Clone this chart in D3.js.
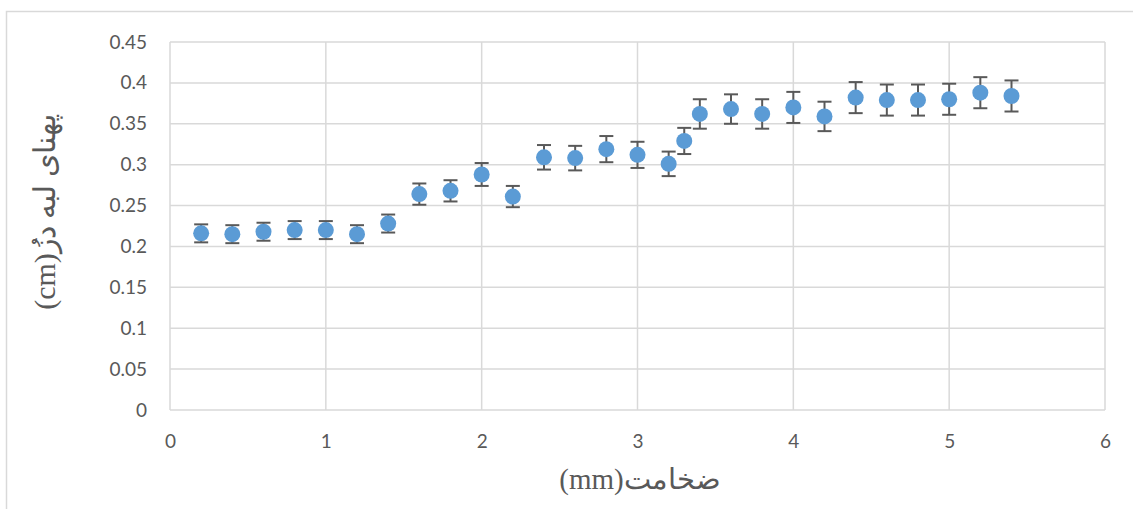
<!DOCTYPE html>
<html>
<head>
<meta charset="utf-8">
<script src="https://cdn.jsdelivr.net/npm/d3@7"></script>
<style>
  body { margin: 0; background: #fff; }
  .tick text { font-family: Lato, "Open Sans", sans-serif; fill: #595959; }
  .title { font-family: "Liberation Serif", "DejaVu Serif", serif; fill: #595959; }
</style>
</head>
<body>
<svg id="chart" width="1133" height="509"></svg>
<script>
// thickness (mm) and edge width (cm)
var thickness = [0.2, 0.4, 0.6, 0.8, 1.0, 1.2, 1.4, 1.6, 1.8, 2.0, 2.2, 2.4, 2.6, 2.8, 3.0, 3.2, 3.3, 3.4, 3.6, 3.8, 4.0, 4.2, 4.4, 4.6, 4.8, 5.0, 5.2, 5.4];
var edgeWidth = [0.216, 0.215, 0.218, 0.220, 0.220, 0.215, 0.228, 0.264, 0.268, 0.288, 0.261, 0.309, 0.308, 0.319, 0.312, 0.301, 0.329, 0.362, 0.368, 0.362, 0.370, 0.359, 0.382, 0.379, 0.379, 0.380, 0.388, 0.384];
var errorBar = [0.011, 0.011, 0.011, 0.011, 0.011, 0.011, 0.011, 0.013, 0.013, 0.014, 0.013, 0.015, 0.015, 0.016, 0.016, 0.015, 0.016, 0.018, 0.018, 0.018, 0.019, 0.018, 0.019, 0.019, 0.019, 0.019, 0.019, 0.019];

var xTicks = [0, 1, 2, 3, 4, 5, 6];
var yTicks = [0, 0.05, 0.1, 0.15, 0.2, 0.25, 0.3, 0.35, 0.4, 0.45];

var xTitle = 'ضخامت(mm)';
var yTitle = 'پهنای لبه دزُ(cm)';

var svg = d3.select('#chart');
var margin = { top: 42, right: 28, bottom: 99, left: 170 };
var width = 1133 - margin.left - margin.right;
var height = 509 - margin.top - margin.bottom;

// outer chart border
svg.append('rect')
    .attr('x', 6.5).attr('y', 11.5)
    .attr('width', 1140).attr('height', 520)
    .attr('fill', 'none')
    .attr('stroke', '#d9d9d9')
    .attr('stroke-width', 1.5);

var g = svg.append('g').attr('transform', `translate(${margin.left},${margin.top})`);

var x = d3.scaleLinear().domain([0, 6]).range([0, width]);
var y = d3.scaleLinear().domain([0, 0.45]).range([height, 0]);

// grid lines
g.selectAll('.vgrid')
    .data(xTicks)
    .join('line')
    .attr('x1', d => x(d)).attr('x2', d => x(d))
    .attr('y1', 0).attr('y2', height)
    .attr('stroke', '#d9d9d9').attr('stroke-width', 1.5);

g.selectAll('.hgrid')
    .data(yTicks)
    .join('line')
    .attr('x1', 0).attr('x2', width)
    .attr('y1', d => y(d)).attr('y2', d => y(d))
    .attr('stroke', '#d9d9d9').attr('stroke-width', 1.5);

// axes (labels only)
var xAxis = g.append('g')
    .attr('transform', `translate(0,${height})`)
    .call(d3.axisBottom(x).tickValues(xTicks).tickSize(0).tickPadding(25).tickFormat(d3.format('d')));
var yAxis = g.append('g')
    .call(d3.axisLeft(y).tickValues(yTicks).tickSize(0).tickPadding(23).tickFormat(d => d3.format('')(+d.toFixed(2))));
xAxis.select('.domain').remove();
yAxis.select('.domain').remove();
g.selectAll('.tick text').style('font-size', '19px');

var data = thickness.map((t, i) => ({ x: t, y: edgeWidth[i], e: errorBar[i] }));

// error bars
var bars = g.selectAll('.err').data(data).join('g').attr('class', 'err');
bars.append('line')
    .attr('x1', d => x(d.x)).attr('x2', d => x(d.x))
    .attr('y1', d => y(d.y + d.e)).attr('y2', d => y(d.y - d.e))
    .attr('stroke', '#595959').attr('stroke-width', 2);
bars.append('line')
    .attr('x1', d => x(d.x) - 7).attr('x2', d => x(d.x) + 7)
    .attr('y1', d => y(d.y + d.e)).attr('y2', d => y(d.y + d.e))
    .attr('stroke', '#595959').attr('stroke-width', 2);
bars.append('line')
    .attr('x1', d => x(d.x) - 7).attr('x2', d => x(d.x) + 7)
    .attr('y1', d => y(d.y - d.e)).attr('y2', d => y(d.y - d.e))
    .attr('stroke', '#595959').attr('stroke-width', 2);

// points
g.selectAll('.pt')
    .data(data)
    .join('circle')
    .attr('class', 'pt')
    .attr('cx', d => x(d.x))
    .attr('cy', d => y(d.y))
    .attr('r', 8)
    .attr('fill', '#5b9bd5');

// axis titles
svg.append('text')
    .attr('class', 'title')
    .attr('x', 640).attr('y', 489)
    .attr('text-anchor', 'middle')
    .style('font-size', '29px')
    .attr('direction', 'rtl')
    .text(xTitle);

svg.append('text')
    .attr('class', 'title')
    .attr('transform', 'translate(55,212) rotate(-90)')
    .attr('text-anchor', 'middle')
    .style('font-size', '30px')
    .attr('direction', 'rtl')
    .text(yTitle);
</script>
</body>
</html>
